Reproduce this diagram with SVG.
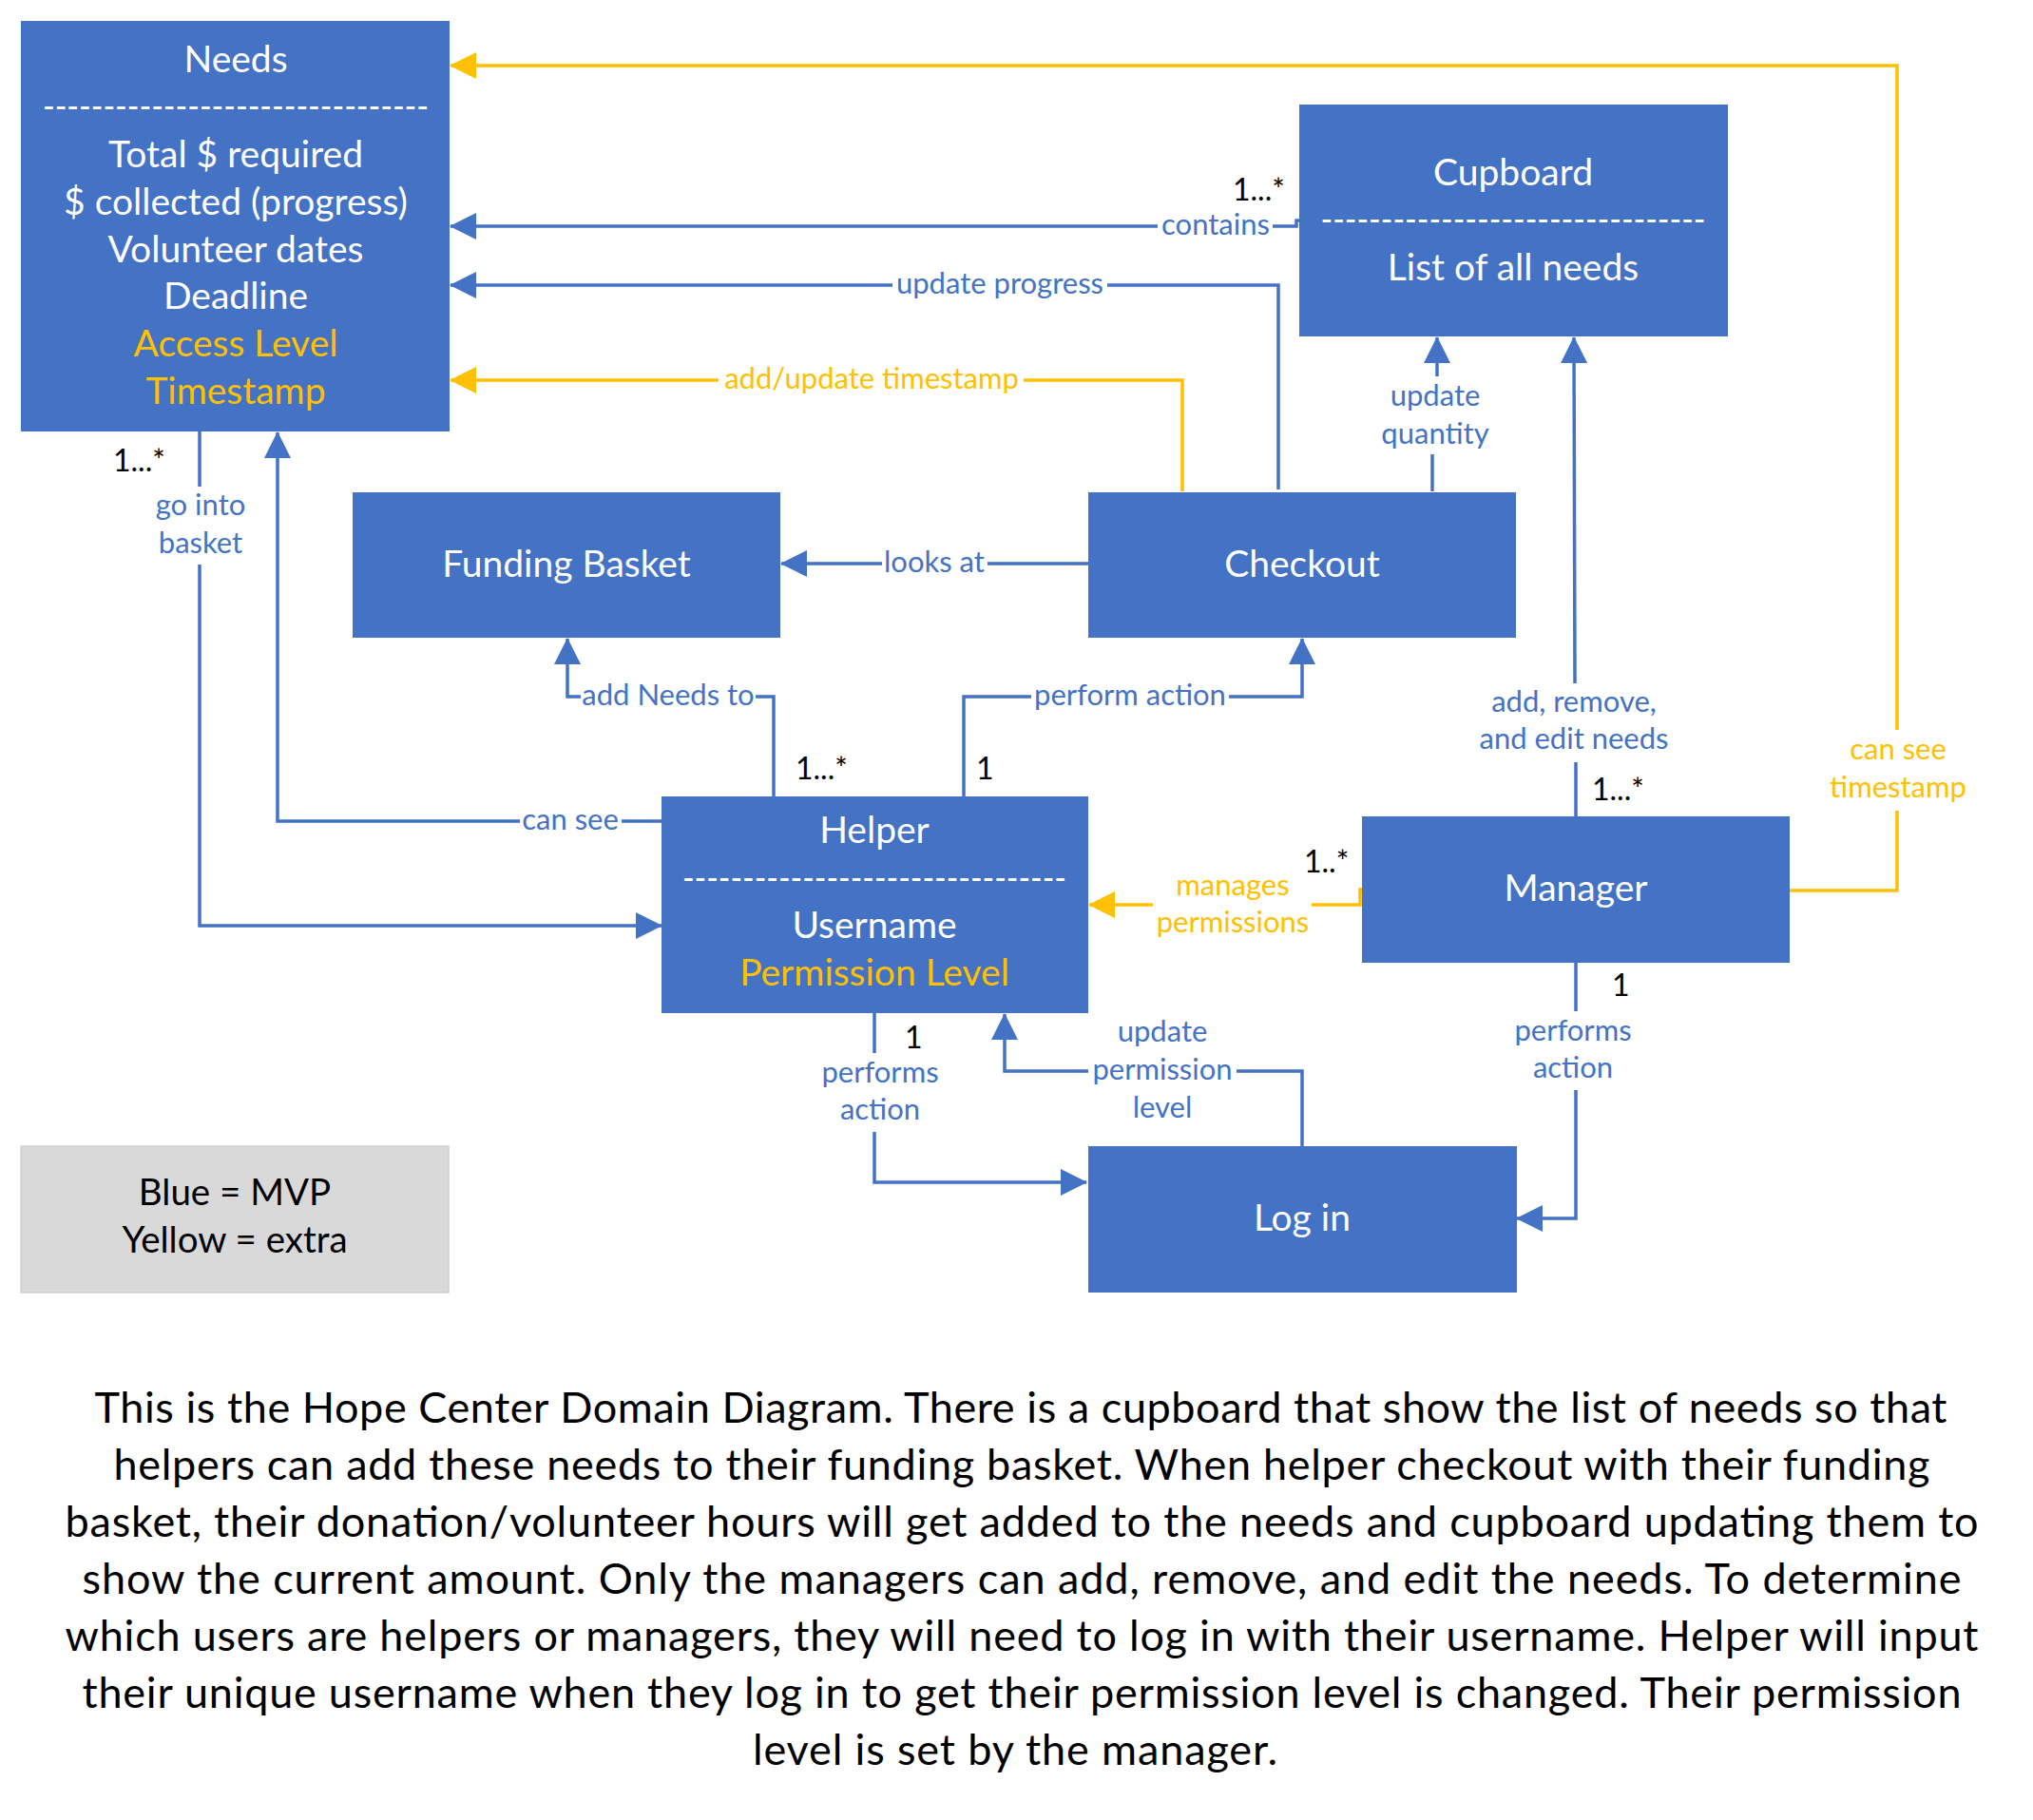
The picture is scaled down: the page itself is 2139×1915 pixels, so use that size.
<svg xmlns="http://www.w3.org/2000/svg" width="2139" height="1915" viewBox="0 0 2139 1915">
<style>
.box{fill:#4472C4;}
.leg{fill:#D9D9D9;stroke:#CFCFCF;stroke-width:1.5;}
.bt{font-family:Lato,"Liberation Sans",sans-serif;font-size:39px;fill:#FFFFFF;text-anchor:middle;}
.by{fill:#FFC000;}
.lt{font-family:Lato,"Liberation Sans",sans-serif;font-size:38.5px;fill:#000000;text-anchor:middle;}
.cb{fill:none;stroke:#4472C4;stroke-width:3.5;}
.cy{fill:none;stroke:#FFC000;stroke-width:3.5;}
.lb{font-family:Lato,"Liberation Sans",sans-serif;font-size:31px;fill:#4472C4;text-anchor:middle;}
.ly{font-family:Lato,"Liberation Sans",sans-serif;font-size:31px;fill:#FFC000;text-anchor:middle;}
.m{font-family:Lato,"Liberation Sans",sans-serif;font-size:32px;fill:#000000;}
.p{font-family:Lato,"Liberation Sans",sans-serif;font-size:45px;fill:#000000;text-anchor:middle;}
</style>
<defs>
<marker id="ab" markerUnits="userSpaceOnUse" markerWidth="28" markerHeight="28" viewBox="0 0 28 28" refX="27" refY="14" orient="auto"><path d="M0,0 L28,14 L0,28 z" fill="#4472C4"/></marker>
<marker id="ay" markerUnits="userSpaceOnUse" markerWidth="28" markerHeight="28" viewBox="0 0 28 28" refX="27" refY="14" orient="auto"><path d="M0,0 L28,14 L0,28 z" fill="#FFC000"/></marker>
</defs>
<rect width="2139" height="1915" fill="#FFFFFF"/>

<g id="connectors">
<!-- Manager -> Needs : can see timestamp -->
<path class="cy" d="M1883,937 H1996 V853"/>
<path class="cy" d="M1996,768 V69 H474" marker-end="url(#ay)"/>
<text class="ly" x="1997" y="799">can see</text>
<text class="ly" x="1997" y="839">timestamp</text>
<!-- Cupboard -> Needs : contains -->
<path class="cb" d="M1367,232 H1364 V238 H1339"/>
<path class="cb" d="M1218,238 H474" marker-end="url(#ab)"/>
<text class="lb" x="1279" y="247">contains</text>
<text class="m" x="1297" y="211">1...*</text>
<!-- Checkout -> Needs : update progress -->
<path class="cb" d="M1345,515 V300 H1165"/>
<path class="cb" d="M939,300 H474" marker-end="url(#ab)"/>
<text class="lb" x="1052" y="309">update progress</text>
<!-- Checkout -> Needs : add/update timestamp -->
<path class="cy" d="M1244,517 V400 H1077"/>
<path class="cy" d="M756,400 H474" marker-end="url(#ay)"/>
<text class="ly" x="917" y="409">add/update timestamp</text>
<!-- Checkout -> Cupboard : update quantity -->
<path class="cb" d="M1507,517 V478"/>
<path class="cb" d="M1512,396 V355" marker-end="url(#ab)"/>
<text class="lb" x="1510" y="427">update</text>
<text class="lb" x="1510" y="467">quantity</text>
<!-- Checkout -> Funding Basket : looks at -->
<path class="cb" d="M1145,593 H1039"/>
<path class="cb" d="M928,593 H822" marker-end="url(#ab)"/>
<text class="lb" x="983" y="602">looks at</text>
<!-- Helper -> Funding Basket : add Needs to -->
<path class="cb" d="M814,838 V733 H795"/>
<path class="cb" d="M611,733 H597 V672" marker-end="url(#ab)"/>
<text class="lb" x="703" y="742">add Needs to</text>
<text class="m" x="837" y="820">1...*</text>
<!-- Helper -> Checkout : perform action -->
<path class="cb" d="M1014,838 V733 H1085"/>
<path class="cb" d="M1293,733 H1370 V672" marker-end="url(#ab)"/>
<text class="lb" x="1189" y="742">perform action</text>
<text class="m" x="1027" y="820">1</text>
<!-- Helper -> Needs : can see -->
<path class="cb" d="M696,864 H654"/>
<path class="cb" d="M547,864 H292 V455" marker-end="url(#ab)"/>
<text class="lb" x="600" y="873">can see</text>
<!-- Needs -> Helper : go into basket -->
<path class="cb" d="M210,454 V512"/>
<path class="cb" d="M210,594 V974 H696" marker-end="url(#ab)"/>
<text class="lb" x="211" y="542">go into</text>
<text class="lb" x="211" y="582">basket</text>
<text class="m" x="119" y="496">1...*</text>
<!-- Helper -> Log in : performs action -->
<path class="cb" d="M920,1066 V1108"/>
<path class="cb" d="M920,1191 V1244 H1143" marker-end="url(#ab)"/>
<text class="lb" x="926" y="1139">performs</text>
<text class="lb" x="926" y="1178">action</text>
<text class="m" x="952" y="1103">1</text>
<!-- Log in -> Helper : update permission level -->
<path class="cb" d="M1370,1206 V1127 H1301"/>
<path class="cb" d="M1145,1127 H1057 V1067" marker-end="url(#ab)"/>
<text class="lb" x="1223" y="1096">update</text>
<text class="lb" x="1223" y="1136">permission</text>
<text class="lb" x="1223" y="1176">level</text>
<!-- Manager -> Cupboard : add, remove, and edit needs -->
<path class="cb" d="M1658,859 V802"/>
<path class="cb" d="M1657,719 L1656,355" marker-end="url(#ab)"/>
<text class="lb" x="1656" y="749">add, remove,</text>
<text class="lb" x="1656" y="788">and edit needs</text>
<text class="m" x="1675" y="842">1...*</text>
<!-- Manager -> Log in : performs action -->
<path class="cb" d="M1658,1013 V1064"/>
<path class="cb" d="M1658,1147 V1282 H1596" marker-end="url(#ab)"/>
<text class="lb" x="1655" y="1095">performs</text>
<text class="lb" x="1655" y="1134">action</text>
<text class="m" x="1696" y="1048">1</text>
<!-- Manager -> Helper : manages permissions -->
<path class="cy" d="M1433,936 H1431 V952 H1380"/>
<path class="cy" d="M1213,952 H1146" marker-end="url(#ay)"/>
<text class="ly" x="1297" y="942">manages</text>
<text class="ly" x="1297" y="981">permissions</text>
<text class="m" x="1372" y="918">1..*</text>
</g>

<g id="needs">
<rect class="box" x="22" y="22" width="451" height="432"/>
<text class="bt" x="248" y="76">Needs</text>
<text class="bt" x="248" y="125" textLength="406" lengthAdjust="spacingAndGlyphs">--------------------------------</text>
<text class="bt" x="248" y="176">Total $ required</text>
<text class="bt" x="248" y="226">$ collected (progress)</text>
<text class="bt" x="248" y="276">Volunteer dates</text>
<text class="bt" x="248" y="325">Deadline</text>
<text class="bt by" x="248" y="375">Access Level</text>
<text class="bt by" x="248" y="425">Timestamp</text>
</g>

<g id="cupboard">
<rect class="box" x="1367" y="110" width="451" height="244"/>
<text class="bt" x="1592" y="195">Cupboard</text>
<text class="bt" x="1592" y="244" textLength="405" lengthAdjust="spacingAndGlyphs">--------------------------------</text>
<text class="bt" x="1592" y="295">List of all needs</text>
</g>

<g id="funding-basket">
<rect class="box" x="371" y="518" width="450" height="153"/>
<text class="bt" x="596" y="607">Funding Basket</text>
</g>

<g id="checkout">
<rect class="box" x="1145" y="518" width="450" height="153"/>
<text class="bt" x="1370" y="607">Checkout</text>
</g>

<g id="helper">
<rect class="box" x="696" y="838" width="449" height="228"/>
<text class="bt" x="920" y="887">Helper</text>
<text class="bt" x="920" y="937" textLength="404" lengthAdjust="spacingAndGlyphs">--------------------------------</text>
<text class="bt" x="920" y="987">Username</text>
<text class="bt by" x="920" y="1037">Permission Level</text>
</g>

<g id="manager">
<rect class="box" x="1433" y="859" width="450" height="154"/>
<text class="bt" x="1658" y="948">Manager</text>
</g>

<g id="login">
<rect class="box" x="1145" y="1206" width="451" height="154"/>
<text class="bt" x="1370" y="1295">Log in</text>
</g>

<g id="legend">
<rect class="leg" x="22" y="1206" width="450" height="154"/>
<text class="lt" x="247" y="1268">Blue = MVP</text>
<text class="lt" x="247" y="1318">Yellow = extra</text>
</g>

<g id="description">
<text class="p" x="1074" y="1497" textLength="1949">This is the Hope Center Domain Diagram. There is a cupboard that show the list of needs so that</text>
<text class="p" x="1075" y="1557" textLength="1911">helpers can add these needs to their funding basket. When helper checkout with their funding</text>
<text class="p" x="1075" y="1617" textLength="2013">basket, their donation/volunteer hours will get added to the needs and cupboard updating them to</text>
<text class="p" x="1075" y="1677" textLength="1977">show the current amount. Only the managers can add, remove, and edit the needs. To determine</text>
<text class="p" x="1075" y="1737" textLength="2013">which users are helpers or managers, they will need to log in with their username. Helper will input</text>
<text class="p" x="1075" y="1797" textLength="1977">their unique username when they log in to get their permission level is changed. Their permission</text>
<text class="p" x="1068" y="1857" textLength="552">level is set by the manager.</text>
</g>
</svg>
